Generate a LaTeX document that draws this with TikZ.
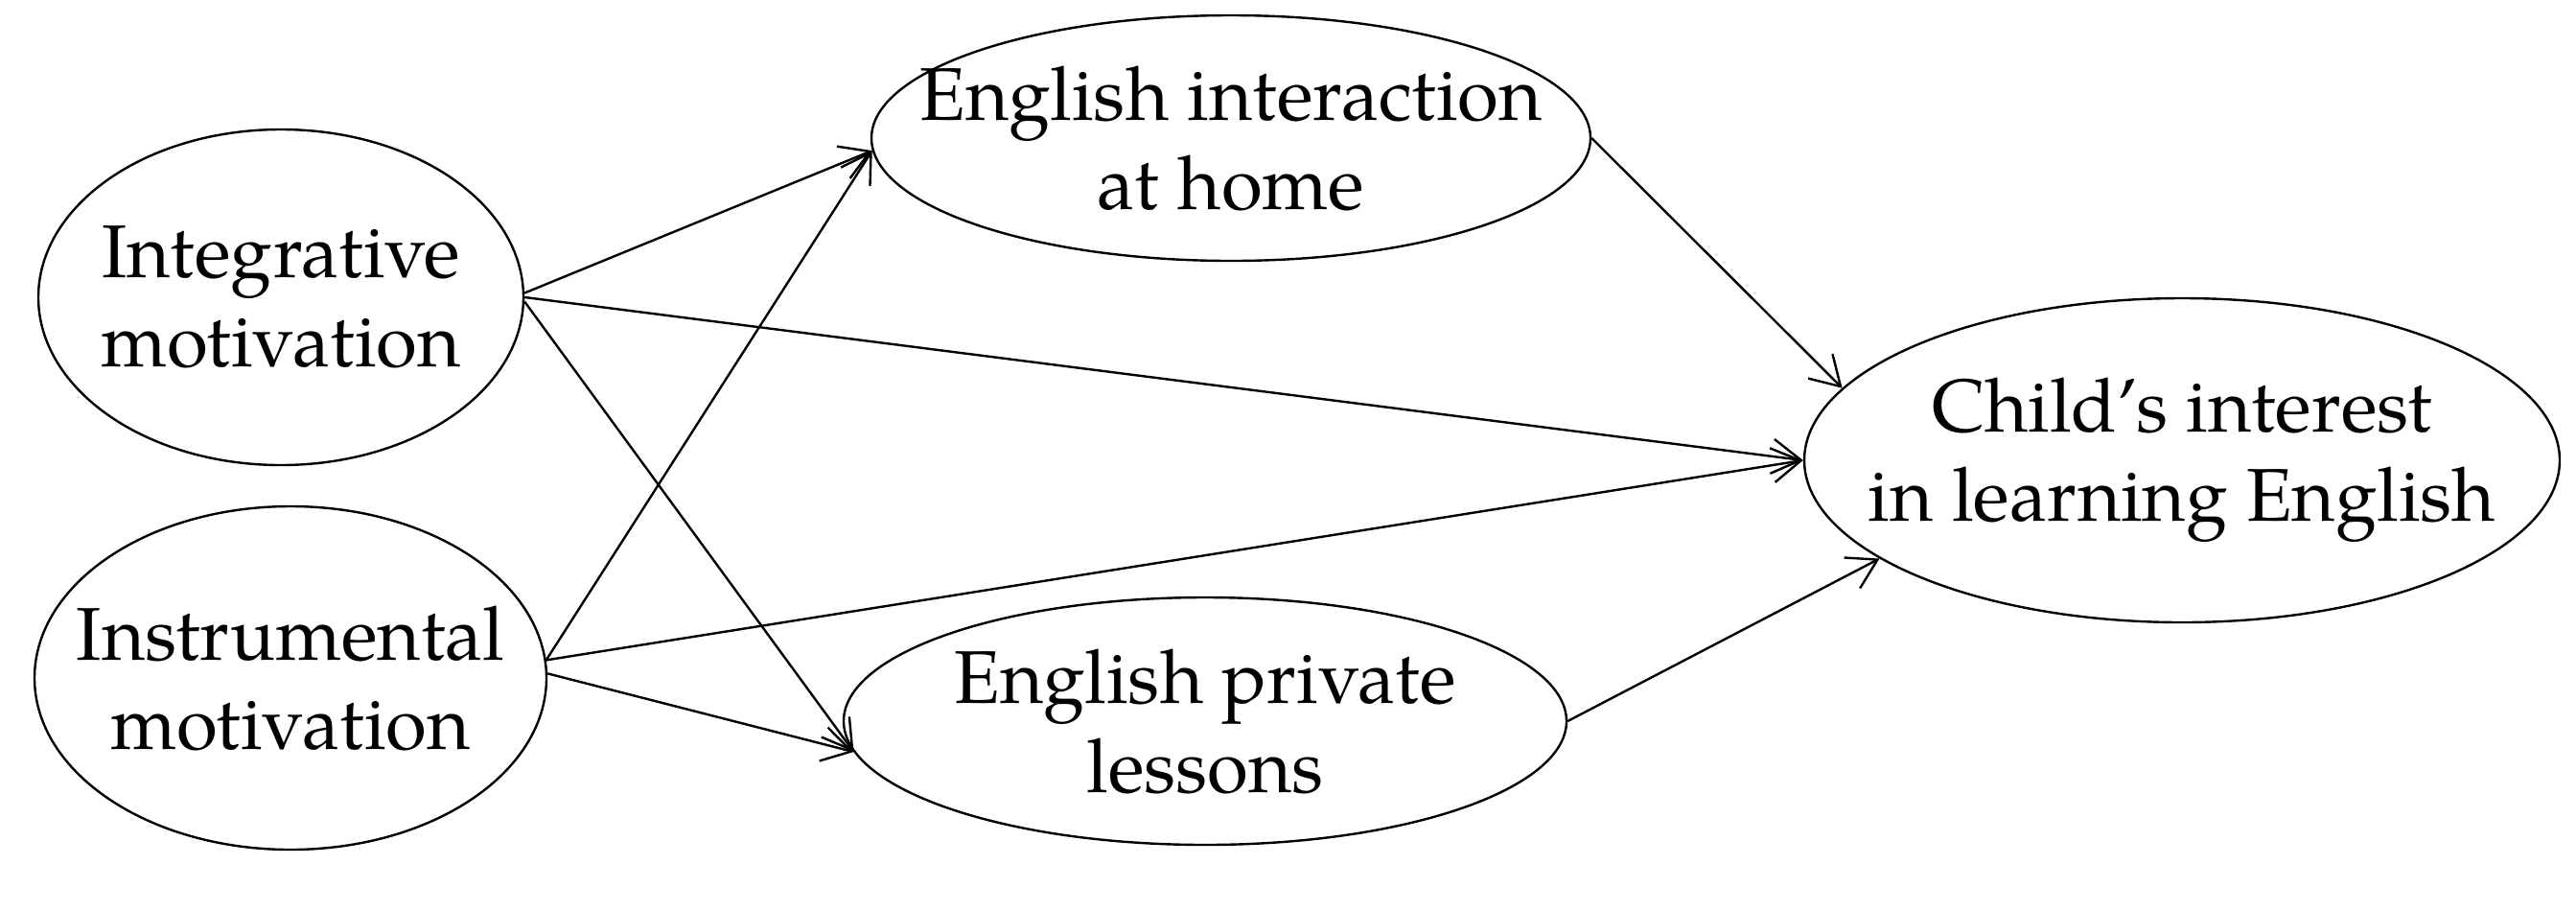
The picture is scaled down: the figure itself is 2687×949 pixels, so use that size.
\documentclass[tikz,border=0pt]{standalone}
\usepackage{fontspec}
\setmainfont{TeX Gyre Pagella}
\usetikzlibrary{shapes.geometric,arrows.meta}
\begin{document}
\begin{tikzpicture}[x=0.5pt,y=-0.5pt,
  var/.style={draw,ellipse,line width=1.2pt,inner sep=0pt},
  lbl/.style={align=center,inner sep=0pt,font=\fontsize{39}{46.5}\selectfont},
  conn/.style={line width=1.2pt,-{Straight Barb[length=15pt,width=18pt,line width=1.2pt]}}]
\path[use as bounding box] (0,0) rectangle (2687,949);
\node[var,minimum width=253pt,minimum height=175pt,label={[lbl]center:Integrative\\motivation}] (int) at (293,310) {};
\node[var,minimum width=267pt,minimum height=179pt,label={[lbl]center:Instrumental\\motivation}] (ins) at (303,707) {};
\node[var,minimum width=375pt,minimum height=128pt,label={[lbl]center:English interaction\\at home}] (eia) at (1284,144) {};
\node[var,minimum width=377pt,minimum height=129pt,label={[lbl]center:English private\\lessons}] (epl) at (1257,752) {};
\node[var,minimum width=394pt,minimum height=169pt,label={[lbl]center:Child’s interest\\in learning English}] (chi) at (2276,480) {};
\draw[conn] (int.1) -- (eia.182);
\draw[conn] (int.0) -- (chi.180);
\draw[conn] (int.-1) -- (epl.185);
\draw[conn] (ins.4) -- (eia.182);
\draw[conn] (ins.4) -- (chi.180);
\draw[conn] (ins.1) -- (epl.185);
\draw[conn] (eia.0) -- (chi.168);
\draw[conn] (epl.0) -- (chi.198);
\end{tikzpicture}
\end{document}
